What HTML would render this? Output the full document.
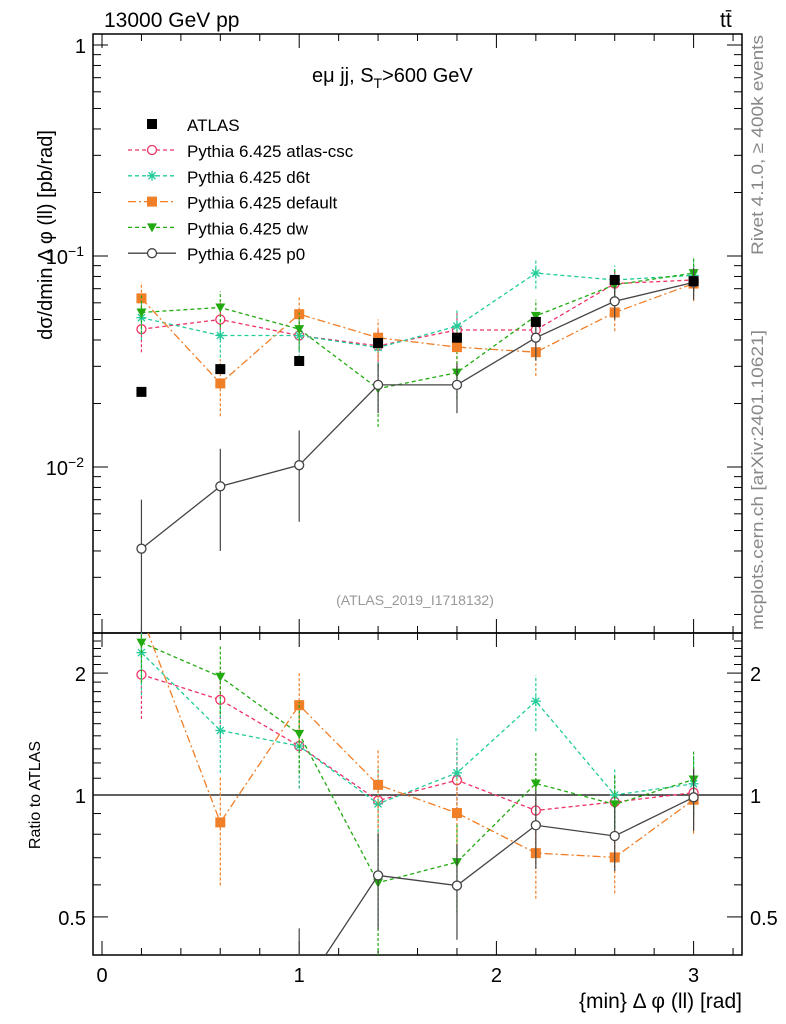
<!DOCTYPE html>
<html><head><meta charset="utf-8"><style>
html,body{margin:0;background:#fff;overflow:hidden;width:786px;height:1024px}
svg{font-family:"Liberation Sans",sans-serif;display:block}
</style></head><body>
<svg id="c" width="786" height="1024" xmlns="http://www.w3.org/2000/svg"></svg>
<script>
const xs=[0.2,0.6,1.0,1.4,1.8,2.2,2.6,3.0];
const atlas=[0.0227,0.0291,0.0318,0.0387,0.041,0.0487,0.077,0.076];
const csc=[0.045,0.050,0.042,0.0375,0.0446,0.0446,0.074,0.077];
const cscErr=[0.010,0.010,0.009,0.008,0.009,0.009,0.012,0.013];
const d6t=[0.051,0.042,0.042,0.0368,0.0465,0.083,0.077,0.081];
const d6tErr=[0.011,0.009,0.009,0.008,0.010,0.013,0.013,0.014];
const def=[0.063,0.0249,0.053,0.041,0.037,0.035,0.054,0.074];
const defErr=[0.012,0.0075,0.011,0.009,0.008,0.008,0.010,0.013];
const dw=[0.054,0.057,0.045,0.0235,0.028,0.052,0.073,0.083];
const dwErr=[0.011,0.011,0.009,0.008,0.007,0.010,0.013,0.015];
const p0=[0.0041,0.0081,0.0102,0.0245,0.0245,0.041,0.061,0.075];
const p0Err=[0.0029,0.0041,0.0047,0.0065,0.0065,0.009,0.011,0.013];
const xTicks=[0,1,2,3];
const yTicks=[1,0.1,0.01];
const rTicks=[0.5,1,2];

const svg=document.getElementById('c');const NS='http://www.w3.org/2000/svg';
function mk(t,a,p){const e=document.createElementNS(NS,t);for(const k in a)e.setAttribute(k,a[k]);(p||svg).appendChild(e);return e;}
const L=93,R=742,T=34,M=633,B=955;
const X=v=>102+v*197.2;
const Y=v=>45-Math.log10(v)*211;
const RY=v=>795-Math.log10(v)*405;
const defs=mk('defs',{});
const c1=mk('clipPath',{id:'cm'},defs);mk('rect',{x:L,y:T,width:R-L,height:M-T},c1);
const c2=mk('clipPath',{id:'cr'},defs);mk('rect',{x:L,y:M,width:R-L,height:B-M},c2);
let e=mk('rect',{x:L,y:T,width:R-L,height:M-T,fill:'none',stroke:'#000','stroke-width':1.5});

e=mk('rect',{x:L,y:M,width:R-L,height:B-M,fill:'none',stroke:'#000','stroke-width':1.5});

for(let v=0;v<=3.21;v+=0.2){const x=X(v);const maj=Math.abs(v-Math.round(v))<1e-6;const h=maj?14:7;
 for(const [a,b] of [[T,M],[M,B]]){mk('line',{x1:x,x2:x,y1:a,y2:a+h,stroke:'#000'});mk('line',{x1:x,x2:x,y1:b,y2:b-h,stroke:'#000'});}}
xTicks.forEach(v=>{e=mk('text',{x:X(v),y:982,'font-size':20,'text-anchor':'middle'});e.textContent=v;
 });
for(let d=-3;d<=0;d++)for(let m=1;m<10;m++){const v=m*Math.pow(10,d);const y=Y(v);if(y<T||y>M)continue;const h=m==1?15:8;
 mk('line',{x1:L,x2:L+h,y1:y,y2:y,stroke:'#000'});mk('line',{x1:R,x2:R-h,y1:y,y2:y,stroke:'#000'});}
const ylab=['1','10<tspan dy="-8" font-size="14">−1</tspan>','10<tspan dy="-8" font-size="14">−2</tspan>'];
yTicks.forEach((v,i)=>{e=mk('text',{x:i==0?86:84,y:Y(v)+8,'font-size':20,'text-anchor':'end'});e.innerHTML=ylab[i];
 });
for(let v=0.4;v<=2.5;v+=0.1){const y=RY(v);if(y<M||y>B)continue;const maj=[0.5,1,2].some(t=>Math.abs(t-v)<1e-6);const h=maj?15:8;
 mk('line',{x1:L,x2:L+h,y1:y,y2:y,stroke:'#000'});mk('line',{x1:R,x2:R-h,y1:y,y2:y,stroke:'#000'});}
rTicks.forEach(v=>{const s=String(v);e=mk('text',{x:86,y:RY(v)+8,'font-size':20,'text-anchor':'end'});e.textContent=s;
 
 e=mk('text',{x:750,y:RY(v)+8,'font-size':20});e.textContent=s;
 });
mk('line',{x1:L,x2:R,y1:RY(1),y2:RY(1),stroke:'#000','stroke-width':1.2});
function txt(s,a,name){const t=mk('text',a);t.innerHTML=s;return t;}
txt('13000 GeV pp',{x:104,y:27,'font-size':21},'energy-label');
txt('tt̄',{x:720,y:27,'font-size':21},'process-label');
txt('eμ jj, S<tspan dy="6" font-size="14">T</tspan><tspan dy="-6">&gt;600 GeV</tspan>',{x:312,y:82,'font-size':20},'cut-label');
txt('(ATLAS_2019_I1718132)',{x:415,y:605,'font-size':14,fill:'#999','text-anchor':'middle'},'analysis-id');
txt('dσ/dmin Δ φ (ll) [pb/rad]',{x:0,y:0,'font-size':20,'text-anchor':'middle',transform:'translate(52,235) rotate(-90)'},'y-axis-title');
txt('Ratio to ATLAS',{x:0,y:0,'font-size':16,'text-anchor':'middle',transform:'translate(40,795) rotate(-90)'},'ratio-axis-title');
txt('{min} Δ φ (ll) [rad]',{x:742,y:1008,'font-size':21,'text-anchor':'end'},'x-axis-title');
txt('Rivet 4.1.0, ≥ 400k events',{x:0,y:0,'font-size':17,fill:'#888','text-anchor':'middle',textLength:220,lengthAdjust:'spacingAndGlyphs',transform:'translate(763,145) rotate(-90)'},'rivet-label');
txt('mcplots.cern.ch [arXiv:2401.10621]',{x:0,y:0,'font-size':17,fill:'#888','text-anchor':'middle',textLength:300,lengthAdjust:'spacingAndGlyphs',transform:'translate(763,480) rotate(-90)'},'mcplots-label');
function marker(kind,x,y,col,g){
 if(kind=='sq')mk('rect',{x:x-5,y:y-5,width:10,height:10,fill:col},g);
 else if(kind=='circ')mk('circle',{cx:x,cy:y,r:4.5,fill:'#fff',stroke:col,'stroke-width':1.3},g);
 else if(kind=='star'){for(let a=0;a<4;a++){const t=a*Math.PI/4;mk('line',{x1:x-5*Math.cos(t),y1:y-5*Math.sin(t),x2:x+5*Math.cos(t),y2:y+5*Math.sin(t),stroke:col,'stroke-width':1.3},g);}}
 else if(kind=='tri')mk('path',{d:`M${x-5},${y-4}L${x+5},${y-4}L${x},${y+5}Z`,fill:col},g);
}
const series=[
 {n:'atlas-csc',v:csc,e:cscErr,col:'#ee3366',dash:'4,3',m:'circ'},
 {n:'d6t',v:d6t,e:d6tErr,col:'#22cc99',dash:'4,3',m:'star'},
 {n:'default',v:def,e:defErr,col:'#f07f28',dash:'8,3,2,3',m:'sq'},
 {n:'dw',v:dw,e:dwErr,col:'#22aa11',dash:'4,3',m:'tri'},
 {n:'p0',v:p0,e:p0Err,col:'#444',dash:'',m:'circ'}];
series.forEach(s=>{
 for(const [mode,clip,fy] of [['main','cm',(v,i)=>Y(v)],['ratio','cr',(v,i)=>RY(v/atlas[i])]]){
  const g=mk('g',{'clip-path':`url(#${clip})`});
  
  const pts=xs.map((x,i)=>X(x)+','+fy(s.v[i],i)).join(' ');
  mk('polyline',{points:pts,fill:'none',stroke:s.col,'stroke-width':1.3,'stroke-dasharray':s.dash},g);
  xs.forEach((x,i)=>{const lo=Math.max(s.v[i]-s.e[i],1e-4),hi=s.v[i]+s.e[i];
   mk('line',{x1:X(x),x2:X(x),y1:fy(lo,i),y2:fy(hi,i),stroke:s.col,'stroke-width':1.2,'stroke-dasharray':s.dash?'3,2':''},g);
   marker(s.m,X(x),fy(s.v[i],i),s.col,g);});
 }});
const ga=mk('g',{'clip-path':'url(#cm)'});
xs.forEach((x,i)=>marker('sq',X(x),Y(atlas[i]),'#000',ga));
const lg=mk('g',{});
marker('sq',152,124,'#000',lg);
e=mk('text',{x:187,y:131,'font-size':17},lg);e.textContent='ATLAS';
series.forEach((s,i)=>{const y=150+i*25.8;
 mk('line',{x1:128,x2:176,y1:y,y2:y,stroke:s.col,'stroke-width':1.3,'stroke-dasharray':s.dash},lg);
 marker(s.m,152,y,s.col,lg);
 const t=mk('text',{x:187,y:y+7,'font-size':17},lg);t.textContent='Pythia 6.425 '+s.n;
 });
</script>
</body></html>
